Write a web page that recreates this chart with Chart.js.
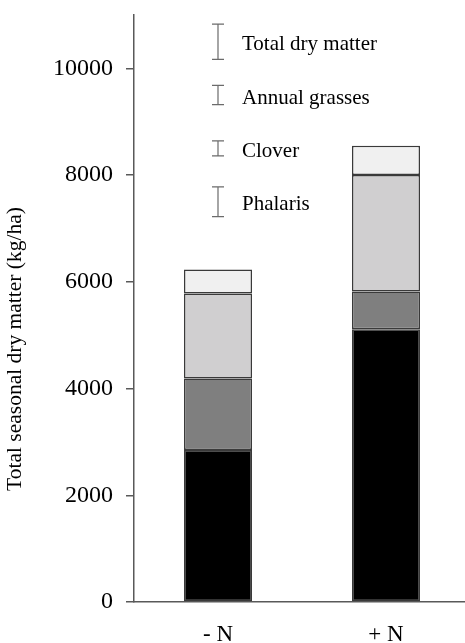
<!DOCTYPE html>
<html>
<head>
<meta charset="utf-8">
<script src="https://cdn.jsdelivr.net/npm/chart.js@4/dist/chart.umd.min.js"></script>
<style>
  body { margin: 0; overflow: hidden; background: #fff; }
</style>
</head>
<body>
<canvas id="chart" width="470" height="643"></canvas>
<script>
const treatments = ['- N', '+ N']
const phalaris = [2850, 5110]
const clover = [1340, 710]
const annualGrasses = [1590, 2180]
const other = [450, 550]
const yTicks = [0, 2000, 4000, 6000, 8000, 10000]

// LSD bars drawn as a key in the top left of the plot
const lsdNames = ['Total dry matter', 'Annual grasses', 'Clover', 'Phalaris']
const lsdSizes = [660, 360, 280, 560]
const lsdCentres = [10500, 9500, 8500, 7500]

const serif = '"Liberation Serif", "Times New Roman", serif'
const axisColor = '#595959'

const lsdKey = {
    id: 'lsdKey',
    afterDraw(chart) {
        const c = chart.ctx
        const x = chart.scales.x.getPixelForValue(0)
        const y = chart.scales.y
        c.save()
        c.strokeStyle = '#6b6b6b'
        c.lineWidth = 1.2
        c.fillStyle = '#000'
        c.font = '21px ' + serif
        c.textBaseline = 'middle'
        lsdNames.forEach((name, i) => {
            const top = y.getPixelForValue(lsdCentres[i] + lsdSizes[i] / 2)
            const bot = y.getPixelForValue(lsdCentres[i] - lsdSizes[i] / 2)
            c.beginPath()
            c.moveTo(x, top); c.lineTo(x, bot)
            c.moveTo(x - 6, top); c.lineTo(x + 6, top)
            c.moveTo(x - 6, bot); c.lineTo(x + 6, bot)
            c.stroke()
            c.fillText(name, x + 24, (top + bot) / 2 + 3)
        })
        // y axis title
        c.translate(15, 349)
        c.rotate(-Math.PI / 2)
        c.textAlign = 'center'
        c.font = '21.5px ' + serif
        c.fillText('Total seasonal dry matter (kg/ha)', 0, 0)
        c.restore()
    }
}

const segBorder = '#3a3a3a'
function seg(label, data, color) {
    return {
        label: label,
        data: data,
        backgroundColor: color,
        borderColor: segBorder,
        borderWidth: 1.5,
        borderSkipped: false,
        categoryPercentage: 1,
        barPercentage: 0.405
    }
}

new Chart(document.getElementById('chart'), {
    type: 'bar',
    data: {
        labels: treatments,
        datasets: [
            seg('Phalaris', phalaris, '#000000'),
            seg('Clover', clover, '#7f7f7f'),
            seg('Annual grasses', annualGrasses, '#d0cfd0'),
            seg('Other', other, '#f0f0f0')
        ]
    },
    options: {
        responsive: false,
        animation: false,
        layout: { padding: { top: 15, right: 0, left: 0, bottom: 0 } },
        plugins: { legend: { display: false }, tooltip: { enabled: false } },
        scales: {
            x: {
                stacked: true,
                grid: { display: false },
                border: { display: true, color: axisColor, width: 1.5 },
                ticks: { color: '#000', font: { family: serif, size: 23 }, padding: 11 },
                afterFit: s => { s.height = 41 }
            },
            y: {
                stacked: true,
                min: 0,
                max: 11000,
                afterBuildTicks: s => { s.ticks = yTicks.map(v => ({ value: v })) },
                grid: { drawOnChartArea: false, drawTicks: true, tickLength: 8, color: axisColor, lineWidth: 1.5 },
                border: { display: true, color: axisColor, width: 1.5 },
                ticks: {
                    autoSkip: false, color: '#000', font: { family: serif, size: 24 }, padding: 13,
                    callback: v => String(v)
                },
                afterFit: s => { s.width = 134; s.paddingTop = 0 }
            }
        }
    },
    plugins: [lsdKey]
})
</script>
</body>
</html>
